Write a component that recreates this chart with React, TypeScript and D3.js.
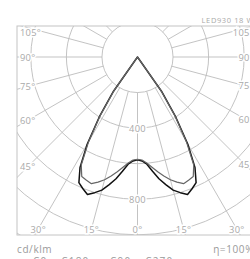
import React from 'react';
import * as d3 from 'd3';

// Photometric data (cd/klm) by angle from nadir, symmetric
const angles = [0, 2.5, 5, 7.5, 10, 12.5, 15, 17.5, 20, 22.5, 25, 27.5, 30, 32.5, 35, 37.5, 40];
const c0Values = [578, 585, 605, 648, 695, 735, 775, 800, 823, 802, 780, 700, 565, 400, 235, 0, 0];
const c90Values = [575, 580, 598, 625, 655, 685, 715, 738, 758, 750, 742, 685, 550, 390, 228, 0, 0];

const gridValues = [200, 400, 600, 800, 1000, 1200, 1400];
const radialLabels = [400, 800];
const gridAngles = [0, 15, 30, 45, 60, 75, 90, 105, 120, 135, 150, 165, 180];
const labeledAngles = [0, 15, 30, 45, 60, 75, 90, 105];

const W = 250, H = 259;
const L = 17, R = 258, T = 26, B = 235;
const cx = 137.5, cy = 57;
const FONT = '"Open Sans", "DejaVu Sans", sans-serif';

type P = { a: number; v: number };

const rScale = d3.scaleLinear().domain([0, 1000]).range([0, 177.8]);
const toRad = (deg: number) => (deg * Math.PI) / 180;
const pt = (deg: number, r: number) => d3.pointRadial(Math.PI - toRad(deg), r);

function seriesPoints(vals: number[]): P[] {
  const pts: P[] = [];
  for (let i = angles.length - 1; i >= 1; i--) pts.push({ a: -angles[i], v: vals[i] });
  for (let i = 0; i < angles.length; i++) pts.push({ a: angles[i], v: vals[i] });
  return pts;
}

const line = d3
  .lineRadial<P>()
  .angle((p) => Math.PI - toRad(p.a))
  .radius((p) => rScale(p.v));

export default function App() {
  const gridColor = '#bcbcbc';
  const labelColor = '#a9a9a9';

  const angleLabels: { x: number; y: number; anchor: string; text: string }[] = [];
  labeledAngles.forEach((deg) => {
    const sides = deg === 0 ? [1] : [-1, 1];
    sides.forEach((s) => {
      const tanv = Math.tan(toRad(deg));
      const bottomDy = B - 6 - cy;
      if (deg < 40) {
        angleLabels.push({ x: cx + s * bottomDy * tanv, y: B - 6, anchor: 'middle', text: `${deg}°` });
      } else {
        const centerX = s < 0 ? L + 11 : R - 13;
        const dx = Math.abs(centerX - cx);
        let y = deg === 90 ? cy : cy + dx / tanv;
        y = Math.max(y, T + 6);
        angleLabels.push({ x: s < 0 ? L + 3 : R - 4, y, anchor: s < 0 ? 'start' : 'end', text: `${deg}°` });
      }
    });
  });

  return (
    <svg width={W} height={H} style={{ position: 'absolute', left: 0, top: 0 }} fontFamily={FONT}>
      <defs>
        <clipPath id="box">
          <rect x={L} y={T} width={R - L} height={B - T} />
        </clipPath>
      </defs>
      <rect x={0} y={0} width={W} height={H} fill="#fff" />
      <g clipPath="url(#box)">
        {gridValues.map((v) => (
          <circle key={v} cx={cx} cy={cy} r={rScale(v)} fill="none" stroke={gridColor} strokeWidth={0.9} />
        ))}
        {gridAngles.flatMap((deg) =>
          (deg === 0 || deg === 180 ? [1] : [-1, 1]).map((s) => {
            const [x1, y1] = pt(s * deg, rScale(200));
            const [x2, y2] = pt(s * deg, rScale(2000));
            return (
              <line key={`${deg}_${s}`} x1={cx + x1} y1={cy + y1} x2={cx + x2} y2={cy + y2} stroke={gridColor} strokeWidth={0.9} />
            );
          })
        )}
      </g>
      <rect x={L} y={T} width={R - L} height={B - T} fill="none" stroke="#c4c4c4" strokeWidth={1} />
      {radialLabels.map((v) => (
        <text key={v} x={cx} y={cy + rScale(v)} textAnchor="middle" dominantBaseline="central" fontSize={9.3}
          fill={labelColor} stroke="#fff" strokeWidth={3} paintOrder="stroke" letterSpacing={0.3}>
          {v}
        </text>
      ))}
      {angleLabels.map((l, i) => (
        <text key={i} x={l.x} y={l.y} textAnchor={l.anchor} dominantBaseline="central" fontSize={9.3}
          fill={labelColor} stroke="#fff" strokeWidth={3} paintOrder="stroke" letterSpacing={0.3}>
          {l.text}
        </text>
      ))}
      <g transform={`translate(${cx},${cy})`}>
        <path d={(line(seriesPoints(c0Values)) || '') + 'Z'} fill="none" stroke="#111" strokeWidth={1.5} strokeLinejoin="round" />
        <path d={(line(seriesPoints(c90Values)) || '') + 'Z'} fill="none" stroke="#666" strokeWidth={1.2} strokeLinejoin="round" />
      </g>
      <text x={R - 4} y={23} textAnchor="end" fontSize={7.5} fill={labelColor} letterSpacing={0.6}>LED930 18 W</text>
      <text x={L} y={253} fontSize={10} fill="#9a9a9a" letterSpacing={0.6}>cd/klm</text>
      <text x={R - 4} y={253} textAnchor="end" fontSize={10} fill="#9a9a9a" letterSpacing={0.6}>η=100%</text>
      <line x1={L} x2={L + 12} y1={261} y2={261} stroke="#111" strokeWidth={1.5} />
      <text x={33} y={264.5} fontSize={10} fill="#9a9a9a" letterSpacing={1.2}>C0 – C180</text>
      <line x1={95} x2={107} y1={261} y2={261} stroke="#666" strokeWidth={1.2} />
      <text x={110} y={264.5} fontSize={10} fill="#9a9a9a" letterSpacing={1.2}>C90 – C270</text>
    </svg>
  );
}
